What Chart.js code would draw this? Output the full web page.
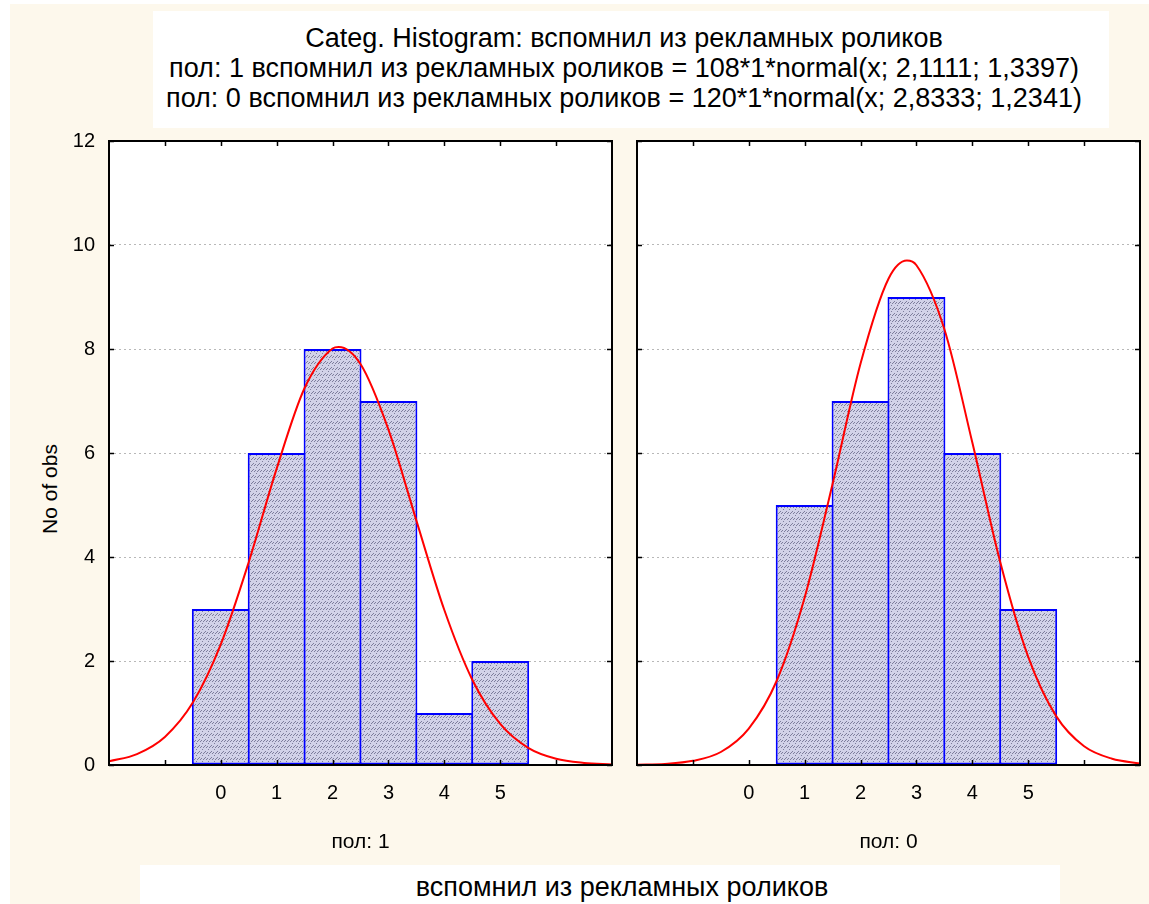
<!DOCTYPE html>
<html lang="ru">
<head>
<meta charset="UTF-8">
<title>Categ. Histogram</title>
<script src="https://cdn.jsdelivr.net/npm/chart.js@4"></script>
<style>
  html, body { margin: 0; padding: 0; background: #fff; }
  body { width: 1149px; height: 904px; position: relative; overflow: hidden;
         font-family: Arial, "Liberation Sans", sans-serif; color: #000; }
  #bg { position: absolute; left: 10px; top: 4px; right: 0; bottom: 0; background: #fdf8ec; }
  .box { position: absolute; background: #fff; }
  .txt { position: absolute; white-space: nowrap; text-align: center; }
  canvas { position: absolute; }
</style>
</head>
<body>
<div id="bg"></div>
<div class="box" style="left:153px;top:11px;width:956px;height:117px"></div>
<div class="txt" style="left:124px;width:1000px;top:23px;font-size:27px;line-height:30px">
  Categ. Histogram: вспомнил из рекламных роликов<br>
  пол: 1 вспомнил из рекламных роликов = 108*1*normal(x; 2,1111; 1,3397)<br>
  пол: 0 вспомнил из рекламных роликов = 120*1*normal(x; 2,8333; 1,2341)
</div>
<div class="box" style="left:140px;top:865px;width:920px;height:39px"></div>
<div class="txt" style="left:122px;width:1000px;top:872px;font-size:27px;line-height:30px">вспомнил из рекламных роликов</div>
<div class="txt" style="left:0;width:100px;top:476px;font-size:21px;line-height:26px;transform:rotate(-90deg);transform-origin:50px 13px">No of obs</div>

<canvas id="left" width="611" height="724" style="left:10px;top:131px"></canvas>
<canvas id="right" width="522" height="724" style="left:627px;top:131px"></canvas>

<script>
// bin centres and counts per group
const bins = [0, 1, 2, 3, 4, 5];
const countsSex1 = [3, 6, 8, 7, 1, 2];
const countsSex0 = [0, 5, 7, 9, 6, 3];
const groupLabels = ['пол: 1', 'пол: 0'];
const yTicks = [0, 2, 4, 6, 8, 10, 12];

// fitted normal curves (x, expected count)
const curveXSex1 = [-2, -1.5, -1, -0.5, 0, 0.5, 1, 1.5, 2, 2.11, 2.5, 3, 3.5, 4, 4.5, 5, 5.5, 6, 6.5, 7];
const curveYSex1 = [0.07, 0.21, 0.54, 1.2, 2.32, 3.9, 5.7, 7.25, 8.01, 8.04, 7.71, 6.45, 4.7, 2.98, 1.64, 0.79, 0.33, 0.12, 0.04, 0.01];
const curveXSex0 = [-2, -1.5, -1, -0.5, 0, 0.5, 1, 1.5, 2, 2.5, 2.83, 3, 3.5, 4, 4.5, 5, 5.5, 6, 6.5, 7];
const curveYSex0 = [0.005, 0.02, 0.08, 0.25, 0.7, 1.62, 3.22, 5.41, 7.72, 9.35, 9.7, 9.61, 8.38, 6.2, 3.9, 2.08, 0.94, 0.36, 0.12, 0.03];

Chart.defaults.font.family = 'Arial, "Liberation Sans", sans-serif';
Chart.defaults.color = '#000';

function hatch() {
  const c = document.createElement('canvas');
  c.width = 6; c.height = 6;
  const g = c.getContext('2d');
  g.fillStyle = '#d2d2e8';
  g.fillRect(0, 0, 6, 6);
  g.fillStyle = '#7e7e9c';
  [[1, 4], [2, 3], [3, 2], [4, 4], [5, 3], [0, 0]].forEach(([x, y]) => g.fillRect(x, y, 1, 1));
  return g.createPattern(c, 'repeat');
}

// white plot area, black frame and inward ticks
const framePlugin = {
  id: 'frame',
  beforeDraw(chart) {
    const a = chart.chartArea, ctx = chart.ctx;
    ctx.save();
    ctx.fillStyle = '#fff';
    ctx.fillRect(a.left, a.top, a.right - a.left, a.bottom - a.top);
    ctx.restore();
  },
  afterDraw(chart) {
    const a = chart.chartArea, ctx = chart.ctx;
    const xs = chart.scales.x, ys = chart.scales.y;
    ctx.save();
    ctx.strokeStyle = '#000';
    ctx.lineWidth = 2;
    ctx.strokeRect(a.left, a.top, a.right - a.left, a.bottom - a.top);
    ctx.beginPath();
    for (let v = -1; v <= 6; v++) {
      const px = Math.round(xs.getPixelForValue(v)) + 0.5;
      ctx.moveTo(px, a.bottom); ctx.lineTo(px, a.bottom - 5);
      ctx.moveTo(px, a.top); ctx.lineTo(px, a.top + 5);
    }
    yTicks.forEach(v => {
      const py = Math.round(ys.getPixelForValue(v)) + 0.5;
      ctx.moveTo(a.left, py); ctx.lineTo(a.left + 5, py);
      ctx.moveTo(a.right, py); ctx.lineTo(a.right - 5, py);
    });
    ctx.lineWidth = 1.5;
    ctx.stroke();
    ctx.restore();
  }
};

function makeChart(id, counts, cx, cy, label, showY) {
  const ctx = document.getElementById(id).getContext('2d');
  return new Chart(ctx, {
    type: 'bar',
    data: {
      datasets: [
        {
          type: 'line',
          data: cx.map((x, i) => ({ x, y: cy[i] })),
          borderColor: '#ff0000',
          borderWidth: 2,
          pointRadius: 0,
          cubicInterpolationMode: 'monotone',
          order: 1
        },
        {
          type: 'bar',
          data: bins.map((x, i) => ({ x, y: counts[i] })),
          backgroundColor: hatch(),
          borderColor: '#0000ff',
          borderWidth: 2,
          borderSkipped: false,
          barPercentage: 1.036,
          categoryPercentage: 1,
          order: 2
        }
      ]
    },
    options: {
      responsive: false,
      animation: false,
      layout: { padding: { top: 10, right: 9, left: showY ? 0 : 10, bottom: 0 } },
      plugins: { legend: { display: false }, tooltip: { enabled: false } },
      scales: {
        x: {
          type: 'linear',
          min: -2, max: 7,
          offset: false,
          grid: { display: false, drawTicks: false },
          border: { display: false },
          ticks: {
            stepSize: 1, autoSkip: false, maxRotation: 0, padding: 16,
            font: { size: 20 },
            callback: v => (v >= 0 && v <= 5 ? String(v) : '')
          },
          title: { display: true, text: label, font: { size: 21 }, padding: 0 },
          afterFit: s => { s.height = 90; s.paddingLeft = 0; s.paddingRight = 0; }
        },
        y: {
          min: 0, max: 12,
          grid: { color: '#b8b8b8', lineWidth: 1, drawTicks: false },
          border: { display: false, dash: [2, 3] },
          ticks: { stepSize: 2, padding: 14, display: showY, font: { size: 20 } },
          afterFit: s => { s.width = showY ? 99 : 0; s.paddingTop = 0; s.paddingBottom = 0; }
        }
      }
    },
    plugins: [framePlugin]
  });
}

makeChart('left', countsSex1, curveXSex1, curveYSex1, groupLabels[0], true);
makeChart('right', countsSex0, curveXSex0, curveYSex0, groupLabels[1], false);
</script>
</body>
</html>
